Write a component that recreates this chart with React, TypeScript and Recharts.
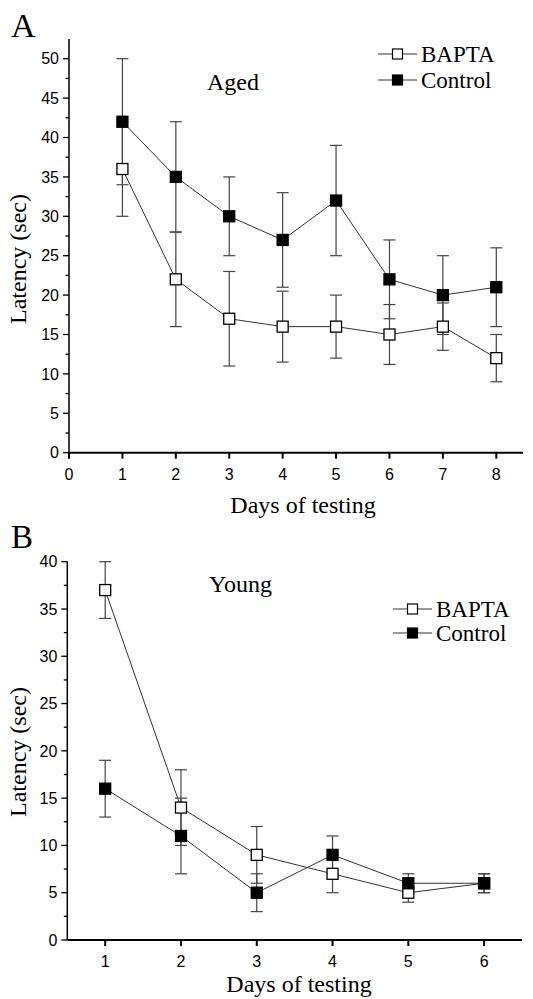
import { ErrorBar, Legend, Line, LineChart, XAxis, YAxis } from 'recharts';

const agedDays = [1, 2, 3, 4, 5, 6, 7, 8];
const agedBapta = [36, 22, 17, 16, 16, 15, 16, 12];
const agedBaptaErr = [6, 6, 6, 4.5, 4, 3.8, 3, 3];
const agedControl = [42, 35, 30, 27, 32, 22, 20, 21];
const agedControlErr = [8, 7, 5, 6, 7, 5, 5, 5];
const agedXTicks = [0, 1, 2, 3, 4, 5, 6, 7, 8];
const agedYTicks = [0, 2.5, 5, 7.5, 10, 12.5, 15, 17.5, 20, 22.5, 25, 27.5, 30, 32.5, 35, 37.5, 40, 42.5, 45, 47.5, 50];

const youngDays = [1, 2, 3, 4, 5, 6];
const youngBapta = [37, 14, 9, 7, 5, 6];
const youngBaptaErr = [3, 4, 3, 2, 1, 1];
const youngControl = [16, 11, 5, 9, 6, 6];
const youngControlErr = [3, 4, 2, 2, 1, 1];
const youngXTicks = [1, 2, 3, 4, 5, 6];
const youngYTicks = [0, 2.5, 5, 7.5, 10, 12.5, 15, 17.5, 20, 22.5, 25, 27.5, 30, 32.5, 35, 37.5, 40];

const SERIF = '"Liberation Serif", "Times New Roman", serif';
const SANS = '"Liberation Sans", Arial, sans-serif';

const agedData = agedDays.map((day, i) => ({
  day,
  bapta: agedBapta[i],
  baptaErr: agedBaptaErr[i],
  control: agedControl[i],
  controlErr: agedControlErr[i],
}));

const youngData = youngDays.map((day, i) => ({
  day,
  bapta: youngBapta[i],
  baptaErr: youngBaptaErr[i],
  control: youngControl[i],
  controlErr: youngControlErr[i],
}));

const square = (fill: string, size: number) => (props: any) => {
  const { cx, cy, index } = props;
  if (cx == null || cy == null) return <g key={`e-${index}`} />;
  return (
    <rect
      key={`sq-${index}`}
      x={cx - size / 2}
      y={cy - size / 2}
      width={size}
      height={size}
      fill={fill}
      stroke="#000"
      strokeWidth={1.3}
    />
  );
};

const yTick = (props: any) => {
  const { x, y, payload } = props;
  const major = payload.value % 5 === 0;
  return (
    <g>
      <line x1={x} x2={x - (major ? 6 : 3.5)} y1={y} y2={y} stroke="#000" strokeWidth={1.3} />
      {major && (
        <text x={x - 10} y={y} dy="0.36em" textAnchor="end" fontFamily={SANS} fontSize={16} fill="#000">
          {payload.value}
        </text>
      )}
    </g>
  );
};

const xTick = (props: any) => {
  const { x, y, payload } = props;
  return (
    <g>
      <line x1={x} x2={x} y1={y} y2={y + 6} stroke="#000" strokeWidth={2} />
      <text x={x} y={y + 27} textAnchor="middle" fontFamily={SANS} fontSize={16} fill="#000">
        {payload.value}
      </text>
    </g>
  );
};

const legendContent = (markerSize: number, rowGap: number) => () => (
  <svg width={150} height={60} style={{ display: 'block' }}>
    {[
      { name: 'BAPTA', fill: '#fff' },
      { name: 'Control', fill: '#000' },
    ].map((item, i) => {
      const cy = 14 + i * rowGap;
      return (
        <g key={item.name}>
          <line x1={4} x2={43} y1={cy} y2={cy} stroke="#333" strokeWidth={1} />
          <rect
            x={23.5 - markerSize / 2}
            y={cy - markerSize / 2}
            width={markerSize}
            height={markerSize}
            fill={item.fill}
            stroke="#000"
            strokeWidth={1.2}
          />
          <text x={47} y={cy + 8} fontFamily={SERIF} fontSize={23} fill="#000">
            {item.name}
          </text>
        </g>
      );
    })}
  </svg>
);

function Panel({
  data,
  width,
  height,
  margin,
  xDomain,
  xTicks,
  yDomain,
  yTicks,
  legendPos,
  rowGap,
}: {
  data: any[];
  width: number;
  height: number;
  margin: { top: number; right: number; bottom: number; left: number };
  xDomain: [number, number];
  xTicks: number[];
  yDomain: [number, number];
  yTicks: number[];
  legendPos: { left: number; top: number };
  rowGap: number;
}) {
  return (
    <LineChart width={width} height={height} data={data} margin={margin}>
      <XAxis
        type="number"
        dataKey="day"
        domain={xDomain}
        ticks={xTicks}
        interval={0}
        tick={xTick}
        tickLine={false}
        tickSize={0}
        tickMargin={0}
        height={1}
        axisLine={{ stroke: '#000', strokeWidth: 2 }}
        allowDataOverflow
      />
      <YAxis
        type="number"
        domain={yDomain}
        ticks={yTicks}
        interval={0}
        tick={yTick}
        tickLine={false}
        tickSize={0}
        tickMargin={0}
        width={1}
        axisLine={{ stroke: '#000', strokeWidth: 1.5 }}
        allowDataOverflow
      />
      <Legend
        layout="horizontal"
        verticalAlign="middle"
        align="center"
        content={legendContent(10, rowGap)}
        wrapperStyle={{ position: 'absolute', left: legendPos.left, top: legendPos.top, width: 150 }}
      />
      <Line
        dataKey="control"
        name="Control"
        stroke="#333"
        strokeWidth={1}
        dot={false}
        activeDot={false}
        legendType="none"
        isAnimationActive={false}
      >
        <ErrorBar dataKey="controlErr" direction="y" width={6} stroke="#444" strokeWidth={1.2} />
      </Line>
      <Line
        dataKey="bapta"
        name="BAPTA"
        stroke="#333"
        strokeWidth={1}
        dot={false}
        activeDot={false}
        legendType="none"
        isAnimationActive={false}
      >
        <ErrorBar dataKey="baptaErr" direction="y" width={6} stroke="#444" strokeWidth={1.2} />
      </Line>
      <Line
        dataKey="bapta"
        name="BAPTA"
        stroke="none"
        dot={square('#fff', 11)}
        activeDot={false}
        legendType="square"
        isAnimationActive={false}
      />
      <Line
        dataKey="control"
        name="Control"
        stroke="none"
        dot={square('#000', 11)}
        activeDot={false}
        legendType="square"
        isAnimationActive={false}
      />
    </LineChart>
  );
}

export default function App() {
  return (
    <div style={{ position: 'absolute', left: 0, top: 0, width: 533, height: 999, background: '#fff' }}>
      <div style={{ position: 'absolute', left: 0, top: 0 }}>
        <Panel
          data={agedData}
          width={533}
          height={520}
          margin={{ top: 39, right: 10, bottom: 66.3, left: 68 }}
          xDomain={[0, 8.5]}
          xTicks={agedXTicks}
          yDomain={[0, 52.5]}
          yTicks={agedYTicks}
          legendPos={{ left: 374, top: 40 }}
          rowGap={26}
        />
      </div>
      <div style={{ position: 'absolute', left: 0, top: 510 }}>
        <Panel
          data={youngData}
          width={533}
          height={489}
          margin={{ top: 51.7, right: 11, bottom: 58, left: 66.3 }}
          xDomain={[0.5, 6.5]}
          xTicks={youngXTicks}
          yDomain={[0, 40]}
          yTicks={youngYTicks}
          legendPos={{ left: 389, top: 85 }}
          rowGap={24}
        />
      </div>
      <svg
        width={533}
        height={999}
        style={{ position: 'absolute', left: 0, top: 0, pointerEvents: 'none' }}
        fontFamily={SERIF}
        fill="#000"
      >
        <text x={11} y={37} fontSize={34}>A</text>
        <text x={11} y={548} fontSize={33}>B</text>
        <text x={207} y={90} fontSize={24}>Aged</text>
        <text x={209} y={592} fontSize={24}>Young</text>
        <text x={26} y={259} fontSize={24} textAnchor="middle" transform="rotate(-90 26 259)">
          Latency (sec)
        </text>
        <text x={26} y={752} fontSize={24} textAnchor="middle" transform="rotate(-90 26 752)">
          Latency (sec)
        </text>
        <text x={303} y={513} fontSize={24} textAnchor="middle">Days of testing</text>
        <text x={299} y={992} fontSize={24} textAnchor="middle">Days of testing</text>
      </svg>
    </div>
  );
}
